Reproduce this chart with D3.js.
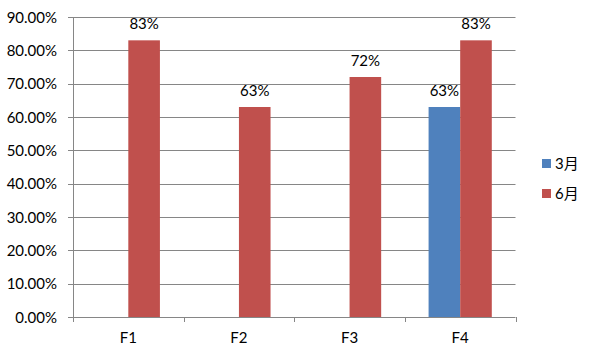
<!DOCTYPE html>
<html><head><meta charset="utf-8">
<script src="https://cdn.jsdelivr.net/npm/d3@7"></script>
<style>body{margin:0;background:#fff}svg{display:block}text{font-family:Lato,"Noto Sans CJK SC",sans-serif;fill:#000}</style>
</head><body><svg id="c" width="595" height="357"></svg>
<script>
const categories = ["F1","F2","F3","F4"];
const seriesNames = ["3月","6月"];
const march = [null,null,null,0.63];
const june = [0.83,0.63,0.72,0.83];
const yTicks = [0,0.1,0.2,0.3,0.4,0.5,0.6,0.7,0.8,0.9];
const colors = ["#4F81BD","#C0504D"];

const svg = d3.select("#c");
const L=73,R=515.5,T=17,B=317;
const x = d3.scaleBand().domain(categories).range([L,R]);
const y = d3.scaleLinear().domain([0,0.9]).range([B,T]);
const bw = x.bandwidth()/3.5;
const x1 = d3.scaleBand().domain(seriesNames).range([0,2*bw]);

// gridlines
svg.append("g").selectAll("line").data(yTicks).join("line")
  .attr("x1",L-5).attr("x2",R).attr("y1",d=>Math.round(y(d))+0.5).attr("y2",d=>Math.round(y(d))+0.5)
  .attr("stroke","#868686").attr("stroke-width",1);
svg.append("g").selectAll("text").data(yTicks).join("text")
  .attr("x",L-16).attr("y",d=>y(d)+5.5).attr("text-anchor","end").style("font-size","15px")
  .text(d=>d3.format(".2%")(d));
// y axis line
svg.append("line").attr("x1",L+0.5).attr("x2",L+0.5).attr("y1",T).attr("y2",B).attr("stroke","#868686");
// x axis ticks
const bounds = categories.map(c=>x(c)).concat([R]);
svg.append("g").selectAll("line").data(bounds).join("line")
  .attr("x1",d=>Math.round(d)+0.5).attr("x2",d=>Math.round(d)+0.5).attr("y1",B).attr("y2",B+5).attr("stroke","#868686");
svg.append("g").selectAll("text").data(categories).join("text")
  .attr("x",d=>x(d)+x.bandwidth()/2).attr("y",343).attr("text-anchor","middle").style("font-size","15px").text(d=>d);

const series=[march,june];
series.forEach((vals,si)=>{
  const g=svg.append("g");
  const pts=categories.map((c,i)=>({c,v:vals[i]})).filter(d=>d.v!=null);
  g.selectAll("rect").data(pts).join("rect")
    .attr("x",d=>x(d.c)+x.bandwidth()/2-bw+x1(seriesNames[si]))
    .attr("width",bw).attr("y",d=>y(d.v)).attr("height",d=>B-y(d.v)).attr("fill",colors[si]);
  g.selectAll("text").data(pts).join("text")
    .attr("x",d=>x(d.c)+x.bandwidth()/2-bw+x1(seriesNames[si])+bw/2)
    .attr("y",d=>y(d.v)-11).attr("text-anchor","middle").style("font-size","15px")
    .text(d=>Math.round(d.v*100)+"%");
});
// legend
const lg=svg.append("g").selectAll("g").data(seriesNames).join("g")
  .attr("transform",(d,i)=>`translate(542,${159+i*30})`);
lg.append("rect").attr("width",9).attr("height",9).attr("fill",(d,i)=>colors[i]);
lg.append("text").attr("x",13).attr("y",10).style("font-size","15px").text(d=>d);
</script></body></html>
